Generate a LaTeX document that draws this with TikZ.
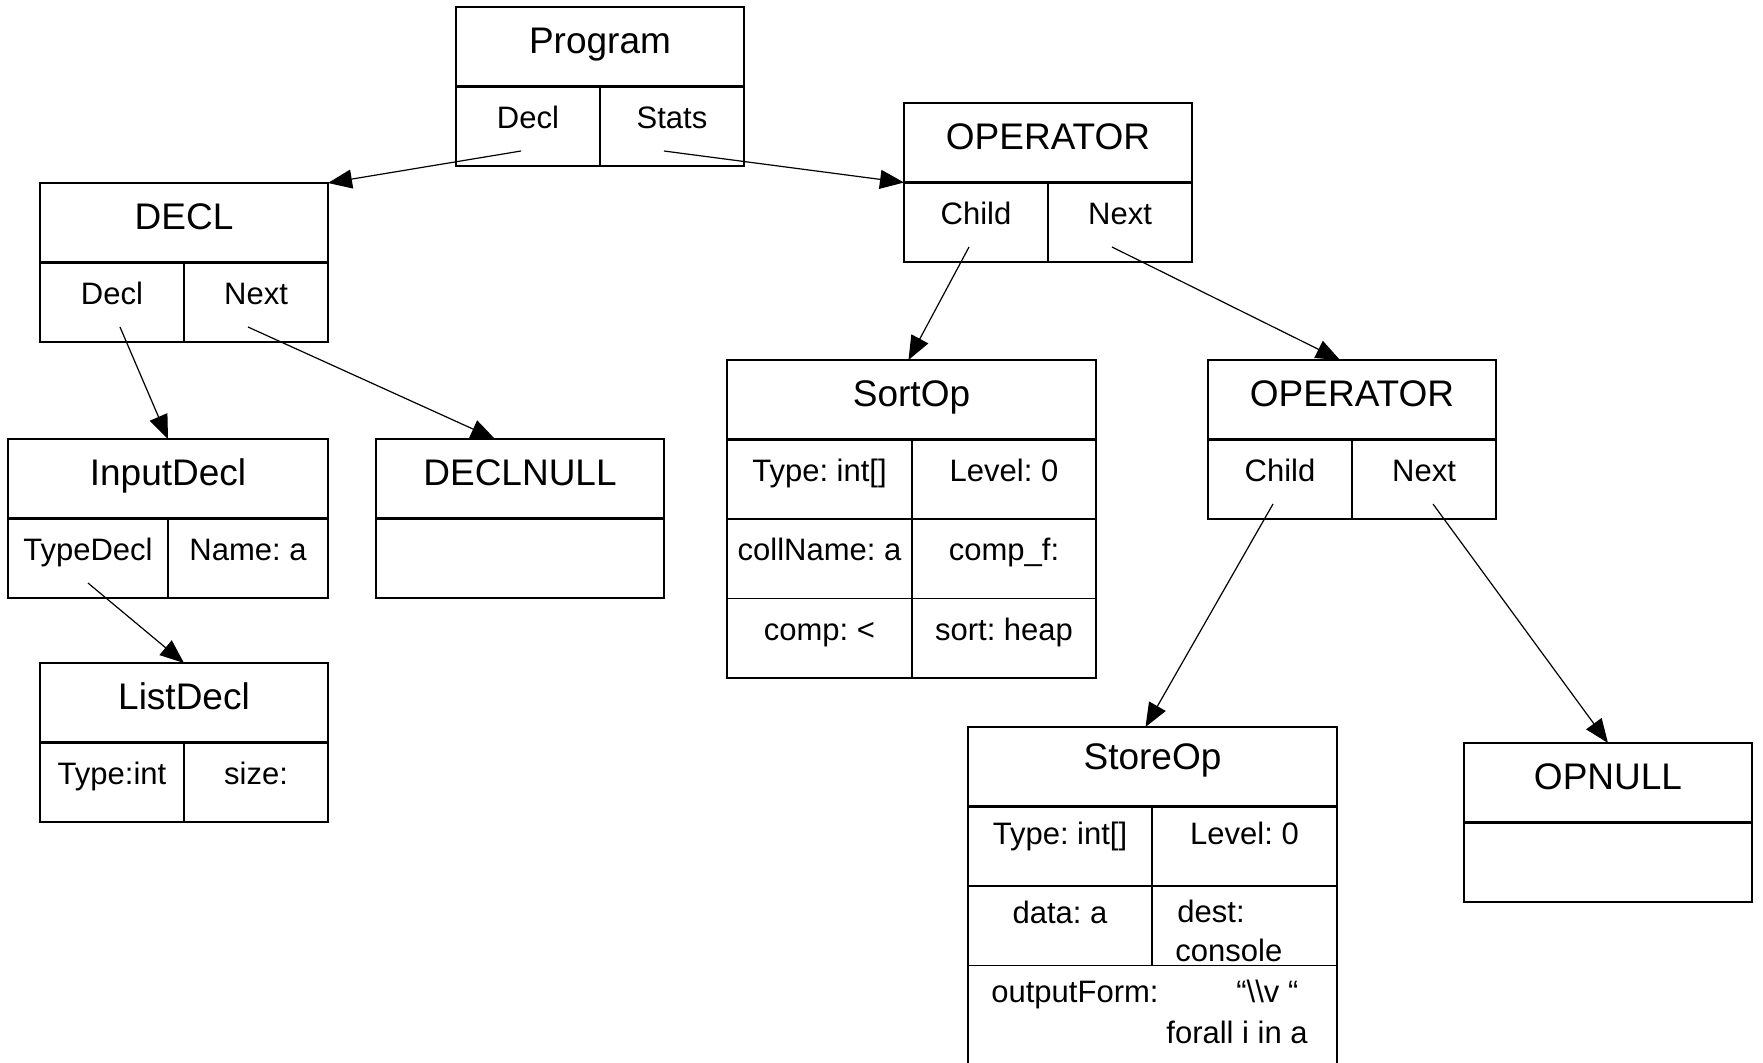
\documentclass[tikz,border=0pt]{standalone}
\usepackage{fontspec}
\setmainfont{Liberation Sans}
\frenchspacing
\usetikzlibrary{arrows.meta,positioning}

\tikzset{
  box/.style={draw,line width=0.7pt,inner sep=0pt,outer sep=0pt,minimum height=39.75pt},
  head/.style={box,font=\fontsize{18.5}{22}\selectfont,text height=13.2pt,text depth=6.7pt,
    append after command={(\tikzlastnode.south west) edge[line width=1.1pt] (\tikzlastnode.south east)}},
  field/.style={box,font=\fontsize{15.5}{18.5}\selectfont,text height=11.1pt,text depth=9.1pt},
  half/.style={field,minimum width=72pt},
  raised/.style={text depth=#1},
  note/.style={anchor=base west,inner sep=0pt,font=\fontsize{15.5}{18.5}\selectfont},
  link/.style={line width=0.6pt,-{Triangle[length=12pt,width=9.5pt]}}
}

\begin{document}
\begin{tikzpicture}[x=0.5pt,y=-0.5pt]
        \useasboundingbox (0,0) rectangle (1763,1062) ;
        % Program
        \node[head,minimum width=144pt,anchor=north west] (prog) at (456,7) {Program} ;
        \node[half,anchor=north west] (pdecl) at (prog.south west) {Decl} ;
        \node[half,right=0pt of pdecl] (pstats) {Stats} ;
        % declarations
        \node[head,minimum width=144pt,anchor=north west] (decl) at (40,183) {DECL} ;
        \node[half,anchor=north west] (ddecl) at (decl.south west) {Decl} ;
        \node[half,right=0pt of ddecl] (dnext) {Next} ;
        \node[head,minimum width=160pt,anchor=north west] (input) at (8,439) {InputDecl} ;
        \node[field,minimum width=80pt,anchor=north west] (itype) at (input.south west) {TypeDecl} ;
        \node[field,minimum width=80pt,right=0pt of itype] (iname) {Name: a} ;
        \node[head,minimum width=144pt,anchor=north west] (dnull) at (376,439) {DECLNULL} ;
        \node[field,minimum width=144pt,anchor=north] (dnullrow) at (dnull.south) {} ;
        \node[head,minimum width=144pt,anchor=north west] (list) at (40,663) {ListDecl} ;
        \node[half,anchor=north west] (ltype) at (list.south west) {Type:int} ;
        \node[half,right=0pt of ltype] (lsize) {size:} ;
        % operators
        \node[head,minimum width=144pt,anchor=north west] (oper) at (904,103) {OPERATOR} ;
        \node[half,anchor=north west] (ochild) at (oper.south west) {Child} ;
        \node[half,right=0pt of ochild] (onext) {Next} ;
        \node[head,minimum width=184.5pt,anchor=north west] (sort) at (727,360) {SortOp} ;
        \node[field,minimum width=92.5pt,anchor=north west] (stype) at (sort.south west) {Type: int[]} ;
        \node[field,minimum width=92pt,right=0pt of stype] (slevel) {Level: 0} ;
        \node[field,minimum width=92.5pt,below=0pt of stype] (scoll) {collName: a} ;
        \node[field,minimum width=92pt,right=0pt of scoll] (scompf) {comp\_f:} ;
        \node[field,minimum width=92.5pt,below=0pt of scoll] (scomp) {comp: <} ;
        \node[field,minimum width=92pt,right=0pt of scomp] (sheap) {sort: heap} ;
        \node[head,minimum width=144pt,anchor=north west] (oper2) at (1208,360) {OPERATOR} ;
        \node[half,anchor=north west] (o2child) at (oper2.south west) {Child} ;
        \node[half,right=0pt of o2child] (o2next) {Next} ;
        \node[head,raised=10.5pt,minimum width=184.5pt,anchor=north west] (store) at (968,727) {StoreOp} ;
        \node[field,raised=13pt,minimum width=92pt,anchor=north west] (ttype) at (store.south west) {Type: int[]} ;
        \node[field,raised=13pt,minimum width=92.5pt,right=0pt of ttype] (tlevel) {Level: 0} ;
        \node[field,raised=13pt,minimum width=92pt,below=0pt of ttype] (tdata) {data: a} ;
        \node[field,minimum width=92.5pt,right=0pt of tdata] (tdest) {} ;
        \node[note] (tdesttxt) at ([shift={(25,36)}]tdest.north west) {dest:} ;
        \node[note] (tconsole) at ([shift={(23,75)}]tdest.north west) {console} ;
        \node[field,minimum width=184.5pt,minimum height=70pt,anchor=north west] (tform) at (tdata.south west) {} ;
        \node[note] (tformtxt) at ([shift={(23,37)}]tform.north west) {outputForm:} ;
        \node[note] (tquote) at ([shift={(268,37)}]tform.north west) {“\textbackslash\textbackslash v “} ;
        \node[note] (tforall) at ([shift={(198,78)}]tform.north west) {forall i in a} ;
        \node[head,minimum width=144pt,anchor=north west] (opnull) at (1464,743) {OPNULL} ;
        \node[field,minimum width=144pt,anchor=north] (opnullrow) at (opnull.south) {} ;
        % pointers
        \draw[link] ([shift={(-7,-15)}]pdecl.south) -- (decl.north east) ;
        \draw[link] ([shift={(-8,-15)}]pstats.south) -- (oper.south west) ;
        \draw[link] ([shift={(8,-15)}]ddecl.south) -- (input.north) ;
        \draw[link] ([shift={(-8,-15)}]dnext.south) -- ([shift={(-25,0)}]dnull.north) ;
        \draw[link] ([shift={(0,-15)}]itype.south) -- (list.north) ;
        \draw[link] ([shift={(-7,-15)}]ochild.south) -- ([shift={(-3,0)}]sort.north) ;
        \draw[link] ([shift={(-8,-15)}]onext.south) -- ([shift={(-12,0)}]oper2.north) ;
        \draw[link] ([shift={(-7,-15)}]o2child.south) -- ([shift={(-7,0)}]store.north) ;
        \draw[link] ([shift={(9,-15)}]o2next.south) -- (opnull.north) ;
      \end{tikzpicture}
\end{document}
